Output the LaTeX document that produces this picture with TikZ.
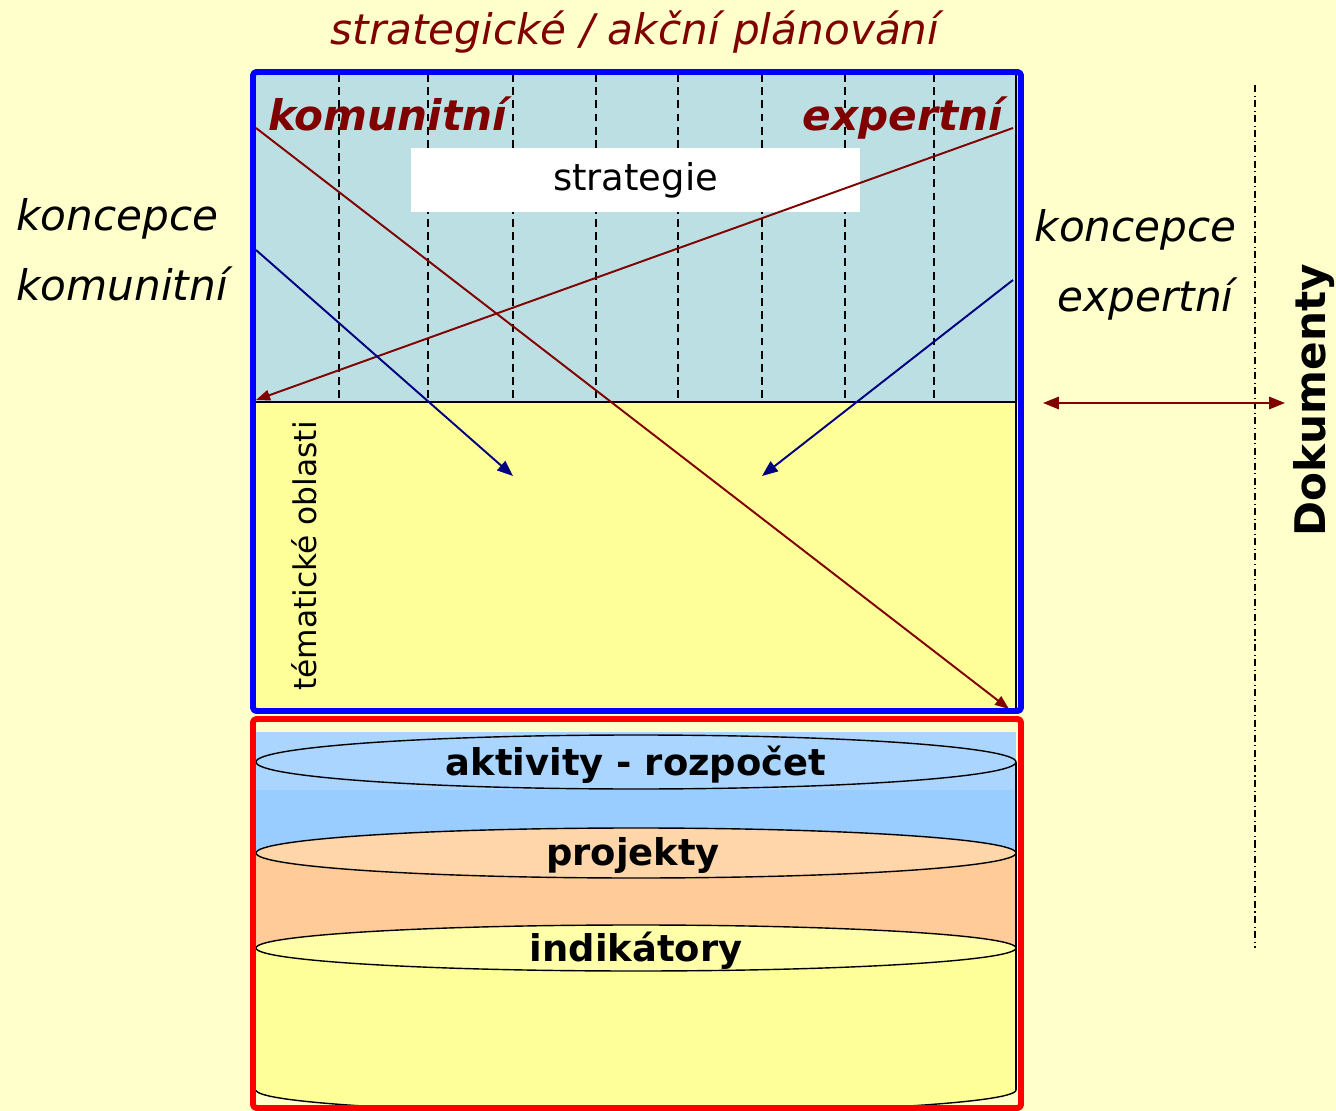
\documentclass[tikz,border=0pt]{standalone}
\usepackage{fontspec}
\setmainfont{DejaVu Sans}
\usetikzlibrary{arrows.meta}
\definecolor{bgyellow}{HTML}{FFFFCC}
\definecolor{paleyellow}{HTML}{FFFF99}
\definecolor{topyellow}{HTML}{FFFFAA}
\definecolor{skyblue}{HTML}{BBDFE3}
\definecolor{darkred}{HTML}{800000}
\definecolor{navy}{HTML}{000080}
\definecolor{cylblue}{HTML}{99CCFF}
\definecolor{topblue}{HTML}{AAD5FF}
\definecolor{cylorange}{HTML}{FFCC99}
\definecolor{toporange}{HTML}{FFD5AA}
\newcommand{\setsz}[1]{\fontsize{#1}{#1}\selectfont}

\begin{document}
\begin{tikzpicture}[x=0.02cm,y=-0.02cm,line join=round,
    lbl/.style={inner sep=0pt,anchor=base},
    konc/.style={lbl,font=\setsz{24}\itshape},
    tag/.style={lbl,font=\setsz{24}\bfseries\itshape,text=darkred},
    cyltext/.style={lbl,font=\setsz{21}\bfseries},
    redarrow/.style={darkred,line width=1.1pt,-{Triangle[length=8pt,width=6pt]}},
    bluearrow/.style={navy,line width=1.1pt,-{Triangle[length=9pt,width=7pt]}}]
    \path[use as bounding box,fill=bgyellow] (0,0) rectangle (1336,1111);

    % upper box: strategie + tematicke oblasti
    \fill[skyblue] (253,72) rectangle (1019,402);
    \fill[paleyellow] (253,402) rectangle (1019,710);
    \foreach \x in {339,428,513,596,678,762,845,934}
        \draw[line width=0.6pt,dash pattern=on 4.5pt off 3pt] (\x,74) -- (\x,401);
    \draw[line width=0.7pt] (256,402) -- (1016,402);
    \draw[line width=0.9pt] (1016,72) -- (1016,710);

    \node[fill=white,inner sep=0pt,minimum width=8.98cm,minimum height=1.28cm,
        font=\setsz{21}] (strat) at (635.5,180) {strategie};
    \node[tag,anchor=base west] (komun) at (268,131) {komunitní};
    \node[tag,anchor=base east] (expert) at (1003,131) {expertní};
    \node[rotate=90,inner sep=0pt,font=\setsz{17.8}] (tema) at (304,556) {tématické oblasti};

    \coordinate (dA1) at (256,128);  \coordinate (dA2) at (1009,709);
    \coordinate (dB1) at (1013,128); \coordinate (dB2) at (256,400);
    \coordinate (nA1) at (256,250);  \coordinate (nA2) at (513,476);
    \coordinate (nB1) at (1013,280); \coordinate (nB2) at (762,476);
    \draw[redarrow] (dA1) -- (dA2);
    \draw[redarrow] (dB1) -- (dB2);
    \draw[bluearrow] (nA1) -- (nA2);
    \draw[bluearrow] (nB1) -- (nB2);

    \draw[blue,line width=3.4pt,rounded corners=2pt] (253,72) rectangle (1021,711);

    % lower box: cylinders
    \fill[topblue] (256,732) rectangle (1016,790);
    \fill[cylblue] (256,790) rectangle (1016,900);
    \draw[line width=0.8pt,fill=topblue] (636,762) ellipse [x radius=380,y radius=27];
    \draw[line width=0.8pt,fill=cylorange] (636,948) ellipse [x radius=380,y radius=25];
    \fill[cylorange] (256,853) rectangle (1016,948);
    \draw[line width=0.8pt,fill=toporange] (636,853) ellipse [x radius=380,y radius=25];
    \draw[line width=0.8pt,fill=paleyellow] (636,1090) ellipse [x radius=380,y radius=23];
    \fill[paleyellow] (256,948) rectangle (1016,1090);
    \draw[line width=0.8pt] (1016,762) -- (1016,1090);
    \draw[line width=0.8pt,fill=topyellow] (636,948) ellipse [x radius=380,y radius=23];

    \node[cyltext] (akt) at (636,775) {aktivity - rozpočet};
    \node[cyltext] (proj) at (633,865) {projekty};
    \node[cyltext] (ind) at (636,961) {indikátory};

    \draw[red,line width=3.4pt,rounded corners=2pt] (253,719) rectangle (1021,1108);

    % labels outside
    \node[lbl,font=\setsz{24}\itshape,text=darkred] (title) at (635,45) {strategické / akční plánování};
    \node[konc,anchor=base west] (konL1) at (16,231) {koncepce};
    \node[konc,anchor=base west] (konL2) at (16,301) {komunitní};
    \node[konc,anchor=base east] (konR1) at (1237,242) {koncepce};
    \node[konc,anchor=base east] (konR2) at (1234,312) {expertní};
    \node[rotate=90,inner sep=0pt,font=\setsz{24}\bfseries] (dok) at (1314,400) {Dokumenty};

    \coordinate (dd1) at (1255,85); \coordinate (dd2) at (1255,948);
    \draw[line width=0.6pt,dash pattern=on 4pt off 2pt on 0.6pt off 2pt] (dd1) -- (dd2);
    \coordinate (da1) at (1043,403); \coordinate (da2) at (1285,403);
    \draw[darkred,line width=1.1pt,{Triangle[length=9pt,width=7pt]}-{Triangle[length=9pt,width=7pt]}] (da1) -- (da2);
\end{tikzpicture}
\end{document}
